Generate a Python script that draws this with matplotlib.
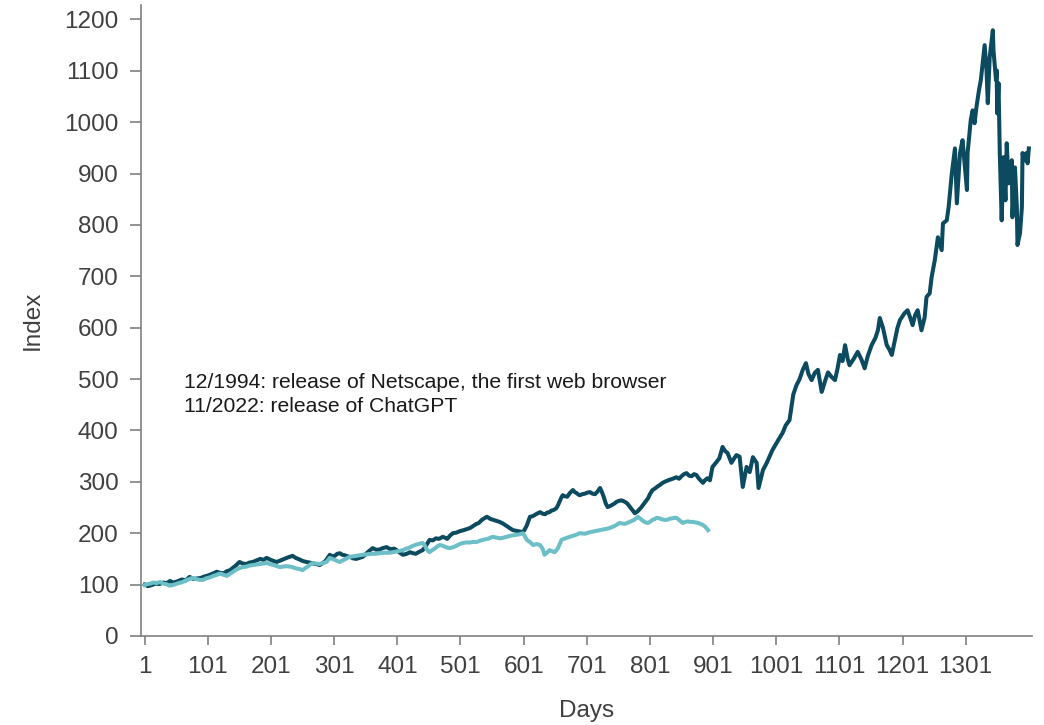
import matplotlib
matplotlib.use("Agg")
import matplotlib.pyplot as plt

# Index level (start = 100) by trading day after each release
netscape_days = [
    1, 6, 12, 18, 24, 30, 36, 41, 46, 52,
    60, 66, 72, 78, 84, 90, 96, 102, 108, 115,
    120, 126, 131, 136, 141, 146, 151, 156, 162, 167,
    172, 178, 184, 189, 194, 199, 205, 210, 216, 222,
    228, 235, 240, 246, 251, 257, 262, 268, 273, 278,
    283, 288, 294, 298, 302, 306, 310, 314, 318, 322,
    326, 331, 336, 341, 346, 350, 354, 358, 362, 367,
    372, 378, 384, 388, 392, 396, 400, 405, 410, 416,
    421, 426, 430, 436, 441, 446, 452, 457, 462, 467,
    473, 477, 480, 485, 489, 494, 500, 506, 511, 516,
    521, 526, 530, 535, 540, 543, 548, 553, 558, 563,
    568, 574, 579, 584, 588, 592, 596, 600, 603, 606,
    611, 615, 618, 622, 627, 631, 635, 638, 642, 645,
    648, 651, 653, 656, 658, 661, 663, 666, 670, 674,
    679, 682, 685, 688, 690, 694, 698, 702, 706, 710,
    714, 718, 722, 725, 728, 731, 734, 738, 741, 745,
    748, 752, 756, 760, 764, 767, 770, 774, 777, 781,
    784, 787, 790, 794, 798, 801, 805, 809, 813, 817,
    821, 826, 832, 837, 843, 847, 851, 855, 859, 863,
    867, 871, 875, 878, 882, 885, 888, 892, 896, 900,
    906, 911, 916, 920, 924, 930, 934, 938, 943, 948,
    954, 959, 964, 970, 973, 980, 986, 995, 1006, 1011,
    1016, 1022, 1028, 1033, 1038, 1043, 1048, 1052, 1057, 1062,
    1067, 1073, 1078, 1083, 1088, 1094, 1098, 1102, 1106, 1110,
    1114, 1117, 1124, 1130, 1136, 1141, 1146, 1152, 1158, 1162,
    1165, 1170, 1176, 1180, 1184, 1189, 1193, 1197, 1204, 1209,
    1213, 1217, 1221, 1225, 1231, 1236, 1239, 1244, 1247, 1252,
    1257, 1263, 1265, 1271, 1274, 1279, 1284, 1287, 1292, 1296,
    1303, 1304, 1309, 1312, 1315, 1318, 1322, 1325, 1328, 1331,
    1334, 1336, 1339, 1344, 1345, 1349, 1350, 1351, 1353, 1355,
    1358, 1361, 1364, 1366, 1369, 1374, 1375, 1379, 1382, 1383,
    1387, 1390, 1391, 1394, 1397, 1399, 1401,
]
netscape_index = [
    100, 97, 99, 102, 101, 104, 103, 107, 104, 106,
    110, 108, 115, 111, 112, 113, 116, 118, 121, 125,
    123, 122, 126, 128, 133, 138, 144, 141, 140, 143,
    144, 147, 150, 148, 152, 149, 146, 144, 147, 150,
    153, 156, 152, 149, 146, 144, 143, 141, 140, 138,
    142, 147, 158, 155, 156, 160, 161, 158, 157, 155,
    154, 151, 150, 152, 154, 158, 163, 167, 171, 168,
    168, 171, 173, 170, 169, 170, 167, 162, 158, 160,
    163, 161, 160, 164, 167, 175, 187, 186, 190, 189,
    193, 191, 189, 196, 200, 201, 204, 206, 208, 210,
    214, 218, 220, 226, 230, 232, 228, 226, 224, 222,
    219, 214, 210, 206, 205, 204, 203, 202, 208, 215,
    232, 233, 235, 238, 241, 238, 237, 240, 241, 244,
    245, 247, 249, 256, 262, 270, 274, 272, 271, 278,
    284, 280, 278, 275, 274, 276, 277, 279, 280, 277,
    276, 281, 288, 280, 270, 258, 251, 253, 255, 258,
    261, 263, 264, 262, 259, 255, 250, 244, 239, 242,
    246, 250, 255, 262, 268, 276, 284, 287, 291, 294,
    298, 301, 304, 306, 309, 306, 311, 315, 317, 312,
    311, 315, 313, 307, 302, 298, 303, 307, 303, 329,
    338, 346, 368, 360, 356, 337, 345, 352, 349, 290,
    329, 319, 348, 337, 288, 323, 337, 362, 385, 395,
    410, 420, 470, 488, 500, 518, 531, 510, 498, 512,
    518, 475, 495, 513, 505, 498, 520, 547, 535, 566,
    540, 527, 540, 553, 538, 521, 545, 566, 580, 595,
    619, 600, 566, 558, 547, 576, 600, 615, 628, 634,
    620, 605, 625, 634, 595, 620, 660, 667, 698, 731,
    776, 751, 803, 809, 835, 900, 949, 842, 940, 965,
    868, 940, 1004, 1023, 998, 1029, 1062, 1082, 1117, 1150,
    1101, 1037, 1126, 1179, 1140, 1082, 1101, 1017, 1076, 940,
    809, 932, 848, 959, 881, 926, 815, 912, 835, 761,
    784, 835, 940, 926, 940, 920, 949,
]

chatgpt_days = [
    1, 5, 10, 15, 20, 25, 30, 35, 40, 45,
    50, 55, 61, 66, 70, 74, 77, 81, 85, 89,
    93, 98, 104, 110, 115, 119, 122, 126, 131, 136,
    141, 146, 151, 156, 162, 167, 172, 178, 183, 189,
    194, 199, 205, 210, 215, 220, 225, 230, 235, 239,
    243, 247, 251, 255, 259, 263, 267, 272, 278, 283,
    289, 294, 298, 302, 306, 310, 314, 318, 322, 326,
    331, 336, 341, 346, 353, 360, 366, 373, 378, 384,
    389, 394, 398, 402, 406, 410, 415, 420, 425, 429,
    435, 441, 444, 447, 450, 452, 456, 460, 464, 468,
    472, 476, 480, 484, 490, 495, 500, 505, 510, 516,
    521, 527, 531, 536, 540, 544, 548, 552, 556, 560,
    564, 568, 574, 580, 585, 590, 595, 600, 603, 606,
    611, 616, 622, 627, 631, 634, 638, 642, 646, 650,
    655, 661, 667, 674, 682, 690, 698, 706, 714, 722,
    730, 737, 745, 753, 761, 769, 776, 782, 786, 790,
    794, 798, 802, 805, 809, 812, 816, 820, 824, 828,
    832, 836, 840, 843, 848, 853, 857, 861, 865, 869,
    873, 877, 881, 885, 889, 893,
]
chatgpt_index = [
    99, 101, 102, 104, 103, 105, 102, 101, 98, 99,
    101, 103, 105, 108, 110, 112, 113, 111, 110, 109,
    109, 112, 114, 117, 119, 121, 121, 119, 117, 121,
    125, 129, 132, 134, 135, 137, 138, 139, 140, 141,
    142, 140, 138, 136, 134, 135, 136, 135, 134, 132,
    131, 130, 128, 132, 135, 139, 142, 141, 140, 142,
    144, 152, 150, 148, 146, 144, 147, 149, 152, 154,
    155, 156, 157, 158, 159, 160, 160, 161, 162, 162,
    162, 163, 164, 165, 166, 167, 170, 172, 175, 177,
    179, 181, 177, 170, 165, 163, 167, 170, 174, 177,
    176, 174, 172, 171, 173, 176, 179, 181, 182, 182,
    183, 183, 185, 187, 188, 189, 191, 193, 192, 191,
    190, 191, 193, 195, 196, 197, 198, 200, 194, 187,
    183, 177, 179, 177, 170, 158, 162, 167, 165, 163,
    170, 187, 190, 193, 196, 200, 199, 202, 204, 206,
    208, 210, 214, 220, 218, 222, 226, 232, 228, 224,
    221, 220, 223, 226, 228, 230, 229, 227, 226, 226,
    228, 229, 230, 230, 225, 220, 222, 223, 222, 222,
    221, 220, 218, 216, 212, 206,
]

series_labels = [
    "12/1994: release of Netscape, the first web browser",
    "11/2022: release of ChatGPT",
]

x_ticks = list(range(1, 1302, 100))
y_ticks = list(range(0, 1201, 100))

dark_teal = "#0b4a5f"
light_teal = "#6cbfc6"
axis_grey = "#808080"
text_grey = "#404040"

plt.rcParams["font.family"] = ["Liberation Sans", "DejaVu Sans"]

fig = plt.figure(figsize=(10.44, 7.25), dpi=100)
ax = fig.add_axes([0.135, 0.1228, 0.8535, 0.8702])

ax.plot(netscape_days, netscape_index, color=dark_teal, lw=2.9,
        solid_joinstyle="round", zorder=3)
ax.plot(chatgpt_days, chatgpt_index, color=light_teal, lw=2.9,
        solid_joinstyle="round", zorder=4)

ax.set_xlim(-5, 1406)
ax.set_ylim(0, 1228)
ax.set_xticks(x_ticks)
ax.set_yticks(y_ticks)

for side in ("top", "right"):
    ax.spines[side].set_visible(False)
for side in ("left", "bottom"):
    ax.spines[side].set_color(axis_grey)
    ax.spines[side].set_linewidth(1.2)

ax.tick_params(axis="y", direction="out", length=8, width=1.2,
               color=axis_grey, labelcolor=text_grey, labelsize=17.5, pad=8)
ax.tick_params(axis="x", direction="out", length=6.5, width=1.2,
               color=axis_grey, labelcolor=text_grey, labelsize=17.5, pad=8)

ax.set_xlabel("Days", fontsize=17.5, color=text_grey, labelpad=16)
ax.set_ylabel("Index", fontsize=17.5, color=text_grey, labelpad=15)

ax.text(0.048, 0.401, series_labels[0], transform=ax.transAxes,
        fontsize=15.2, color="#1a1a1a", va="center", ha="left")
ax.text(0.048, 0.363, series_labels[1], transform=ax.transAxes,
        fontsize=15.2, color="#1a1a1a", va="center", ha="left")

fig.savefig("out.png", dpi=100)
